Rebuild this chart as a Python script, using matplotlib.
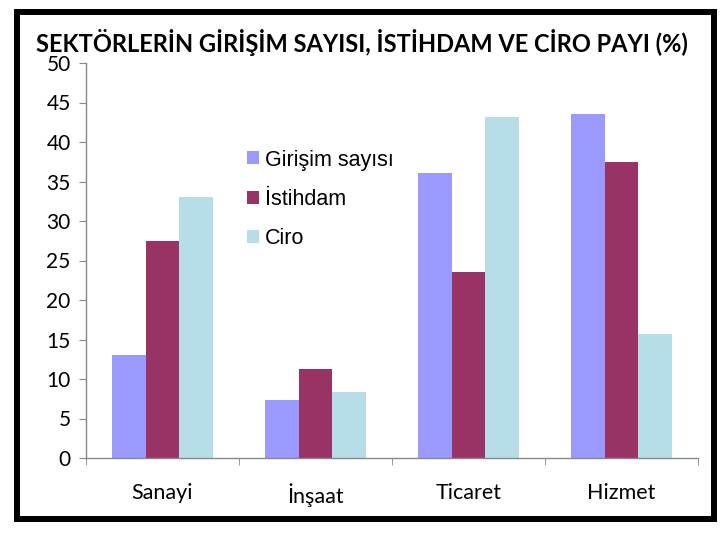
import numpy as np
import matplotlib.pyplot as plt
from matplotlib.patches import Rectangle

categories = ["Sanayi", "İnşaat", "Ticaret", "Hizmet"]
series_names = ["Girişim sayısı", "İstihdam", "Ciro"]
girisim = [13.0, 7.4, 36.1, 43.5]
istihdam = [27.5, 11.3, 23.6, 37.5]
ciro = [33.1, 8.3, 43.2, 15.7]
colors = ["#9999FF", "#993366", "#B7DEE8"]

narrow = ["Lato", "DejaVu Sans"]

fig = plt.figure(figsize=(7.28, 5.39), dpi=100)
ax = fig.add_axes([86 / 728, 1 - 458 / 539, 612 / 728, 395 / 539])

x = np.arange(len(categories))
w = 0.222
for k, (vals, name) in enumerate(zip([girisim, istihdam, ciro], series_names)):
    ax.bar(x + (k - 1) * w, vals, width=w, color=colors[k], label=name)

ax.set_xlim(-0.5, len(categories) - 0.5)
ax.set_ylim(0, 50)
ax.set_yticks(range(0, 51, 5))
ax.set_yticklabels([str(v) for v in range(0, 51, 5)], family=narrow, fontsize=15)
ax.set_xticks(x)
ax.set_xticklabels(categories, family=narrow, fontsize=15.5)
ax.set_xticks(np.arange(-0.5, len(categories)), minor=True)
ax.tick_params(axis="x", which="major", length=0, pad=18)
ax.tick_params(axis="x", which="minor", length=5, color="#888888", direction="out")
ax.tick_params(axis="y", length=5, color="#888888", pad=6)
for s in ["top", "right"]:
    ax.spines[s].set_visible(False)
for s in ["left", "bottom"]:
    ax.spines[s].set_color("#888888")
    ax.spines[s].set_linewidth(1)

leg = ax.legend(loc="upper left", bbox_to_anchor=(0.232, 0.83), frameon=False,
                prop={"family": "Liberation Sans", "size": 15.5},
                handlelength=0.55, handleheight=0.55, handletextpad=0.25,
                labelspacing=0.85)

title = fig.text(36 / 728, 1 - 52 / 539,
                 "SEKTÖRLERİN GİRİŞİM SAYISI, İSTİHDAM VE CİRO PAYI (%)",
                 ha="left", va="baseline", fontsize=16, fontweight="bold", family=narrow)
fig.canvas.draw()
tw = title.get_window_extent().width
title.set_fontsize(16 * 654 / tw)

fig.patches.append(Rectangle((17 / 728, 1 - 519 / 539), 697 / 728, 507 / 539,
                             transform=fig.transFigure, fill=False,
                             edgecolor="black", linewidth=4.3))

fig.savefig("out.png", dpi=100)
